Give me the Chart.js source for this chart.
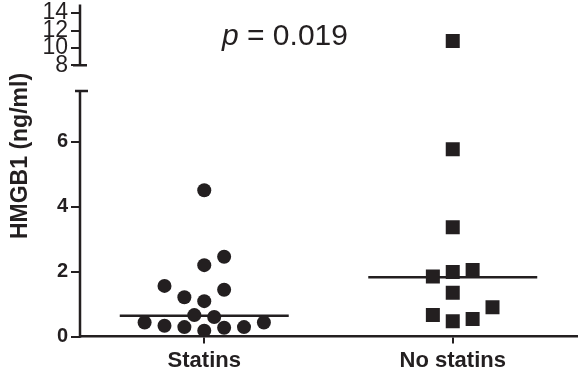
<!DOCTYPE html>
<html><head><meta charset="utf-8">
<script src="https://cdn.jsdelivr.net/npm/chart.js@4/dist/chart.umd.min.js"></script>
<style>html,body{margin:0;padding:0;background:#fff;overflow:hidden;}canvas{display:block;}</style>
</head><body><canvas id="c" width="579" height="373"></canvas>
<script>
// ---- data ----
const CATEGORIES = ['Statins', 'No statins'];
const STATINS_VALUES = [4.51, 2.46, 2.20, 1.56, 1.44, 1.21, 1.09, 0.66, 0.60, 0.43, 0.43, 0.33, 0.29, 0.18, 0.27, 0.29];
const STATINS_X      = [0.50, 0.58, 0.50, 0.34, 0.58, 0.42, 0.50, 0.46, 0.54, 0.26, 0.74, 0.34, 0.42, 0.50, 0.58, 0.66];
const NO_STATINS_VALUES = [10.8, 5.77, 3.37, 2.05, 1.99, 1.85, 1.35, 0.90, 0.66, 0.47, 0.54];
const NO_STATINS_X      = [1.50, 1.50, 1.50, 1.58, 1.50, 1.42, 1.50, 1.66, 1.42, 1.50, 1.58];
const MEDIANS = [0.64, 1.83];
const Y_TICKS = [0, 2, 4, 6, 8, 10, 12, 14];
const P_VALUE = '0.019';
const Y_TITLE = 'HMGB1 (ng/ml)';

// broken axis: lower segment 0..7.57 linear, upper segment 8..15 compressed
const LOWER_TOP = 7.57, UPPER_BASE = 8, UPPER_TOP = 15, UPPER_T0 = 8.36, UPPER_SLOPE = 0.268;
function tf(v) { return v < UPPER_BASE ? v : UPPER_T0 + (v - UPPER_BASE) * UPPER_SLOPE; }

const INK = '#231f20';
const MED_HALF = 0.34;

const brokenAxis = {
  id: 'brokenAxis',
  afterDraw(chart) {
    const ctx = chart.ctx, ys = chart.scales.y, xa = chart.chartArea.left;
    ctx.save();
    ctx.strokeStyle = INK; ctx.lineWidth = 2.5; ctx.lineCap = 'butt';
    const p0 = ys.getPixelForValue(0), p1 = ys.getPixelForValue(tf(LOWER_TOP));
    const p2 = ys.getPixelForValue(tf(UPPER_BASE)), p3 = ys.getPixelForValue(tf(UPPER_TOP));
    ctx.beginPath();
    ctx.moveTo(xa, p0 + 1.25); ctx.lineTo(xa, p1);
    ctx.moveTo(xa - 5, p1); ctx.lineTo(xa + 8, p1);
    ctx.moveTo(xa, p2); ctx.lineTo(xa, p3);
    ctx.moveTo(xa - 7, p2); ctx.lineTo(xa + 7, p2);
    ctx.stroke();
    // y-axis title
    ctx.fillStyle = INK;
    ctx.font = 'bold 23px "Liberation Sans", Arial, sans-serif';
    ctx.textAlign = 'center'; ctx.textBaseline = 'middle';
    ctx.translate(21, 156); ctx.rotate(-Math.PI / 2);
    ctx.fillText(Y_TITLE, 0, 0);
    ctx.restore();
    // p value annotation
    ctx.save();
    ctx.fillStyle = INK; ctx.textBaseline = 'alphabetic'; ctx.textAlign = 'left';
    ctx.font = 'italic 30px "Liberation Sans", Arial, sans-serif';
    const px = 222, py = 45;
    ctx.fillText('p', px, py);
    const w = ctx.measureText('p').width;
    ctx.font = '30px "Liberation Sans", Arial, sans-serif';
    ctx.fillText(' = ' + P_VALUE, px + w, py);
    ctx.restore();
  }
};

const lowerFont = { family: '"Liberation Sans", Arial, sans-serif', size: 20, weight: 'bold' };
const upperFont = { family: '"Liberation Sans Narrow", "Liberation Sans", Arial, sans-serif', size: 23, weight: 'normal' };

new Chart(document.getElementById('c'), {
  type: 'scatter',
  data: {
    datasets: [
      { label: CATEGORIES[0], data: STATINS_VALUES.map((v, i) => ({ x: STATINS_X[i], y: tf(v) })),
        pointStyle: 'circle', pointRadius: 7, pointHoverRadius: 7, backgroundColor: INK, borderWidth: 0 },
      { label: CATEGORIES[1], data: NO_STATINS_VALUES.map((v, i) => ({ x: NO_STATINS_X[i], y: tf(v) })),
        pointStyle: 'rect', pointRadius: 9.9, pointHoverRadius: 9.9, backgroundColor: INK, borderWidth: 0 },
      ...MEDIANS.map((m, i) => ({
        label: 'median ' + CATEGORIES[i], type: 'line', showLine: true,
        data: [{ x: i + 0.5 - MED_HALF, y: tf(m) }, { x: i + 0.5 + MED_HALF, y: tf(m) }],
        borderColor: INK, borderWidth: 2.5, pointRadius: 0, fill: false
      }))
    ]
  },
  options: {
    responsive: false, animation: false, devicePixelRatio: 1,
    layout: { autoPadding: false, padding: { left: 0, right: 2, top: 4, bottom: 0 } },
    plugins: { legend: { display: false }, tooltip: { enabled: false }, title: { display: false } },
    scales: {
      x: {
        type: 'linear', min: 0, max: 2, position: 'bottom',
        afterBuildTicks: s => { s.ticks = [{ value: 0.5 }, { value: 1.5 }]; },
        afterFit: s => { s.height = 36.5; s.paddingLeft = 0; s.paddingRight = 0; },
        ticks: { callback: (v, i) => CATEGORIES[i], color: INK, padding: 4, autoSkip: false, maxRotation: 0,
                 font: { family: '"Liberation Sans", Arial, sans-serif', size: 22, weight: 'bold' } },
        grid: { display: true, drawOnChartArea: false, drawTicks: true, tickLength: 7, color: INK, lineWidth: 2 },
        border: { display: true, color: INK, width: 2.5 }
      },
      y: {
        type: 'linear', min: 0, max: 10.25,
        afterBuildTicks: s => { s.ticks = Y_TICKS.map(v => ({ value: tf(v) })); },
        afterFit: s => { s.width = 80; s.paddingTop = 0; s.paddingBottom = 0; },
        ticks: { callback: (v, i) => String(Y_TICKS[i]), color: INK, padding: 3, autoSkip: false,
                 font: c => (c.index >= 4 ? upperFont : lowerFont) },
        grid: { display: true, drawOnChartArea: false, drawTicks: true, tickLength: 9, color: INK, lineWidth: 2 },
        border: { display: false }
      }
    }
  },
  plugins: [brokenAxis]
});
</script>
</body></html>
